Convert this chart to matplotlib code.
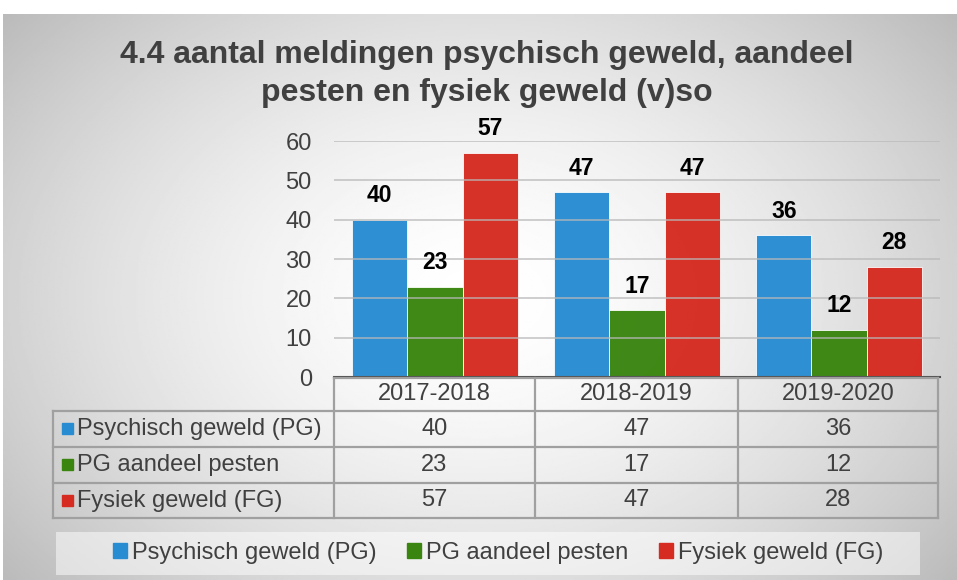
import matplotlib.pyplot as plt
import numpy as np
from matplotlib.patches import Rectangle
from matplotlib.lines import Line2D

plt.rcParams['font.family'] = ['Liberation Sans', 'DejaVu Sans']

title = "4.4 aantal meldingen psychisch geweld, aandeel\npesten en fysiek geweld (v)so"
years = ["2017-2018", "2018-2019", "2019-2020"]
series = ["Psychisch geweld (PG)", "PG aandeel pesten", "Fysiek geweld (FG)"]
pg = [40, 47, 36]
pesten = [23, 17, 12]
fg = [57, 47, 28]
colors = ["#288CD2", "#3A850F", "#D62B20"]
values = [pg, pesten, fg]

W, H = 957, 580
txt = "#404040"
fig = plt.figure(figsize=(W / 100, H / 100), dpi=100)

def fx(px):
    return px / W

def fy(py):
    return 1 - py / H

# background panel with radial gradient
bg = fig.add_axes([fx(3), 0, 1 - fx(3), fy(14)])
bg.set_axis_off()
yy, xx = np.mgrid[0:1:300j, 0:1:500j]
r = np.sqrt(((xx - 0.5) / 0.62) ** 2 + ((yy - 0.5) / 0.75) ** 2)
shade = 1 - 0.25 * np.clip(r, 0, 1.4) ** 1.6
bg.imshow(shade, cmap="gray", vmin=0, vmax=1, aspect="auto", extent=[0, 1, 0, 1])
bg.set_xlim(0, 1)
bg.set_ylim(0, 1)

fig.text(fx(487), fy(74), title, ha="center", va="center", fontsize=23,
         fontweight="bold", color=txt, linespacing=1.38)

# bar chart
ax = fig.add_axes([fx(334), fy(377), fx(940 - 334), (377 - 141) / H])
ax.set_facecolor("none")
x = np.arange(len(years))
w = 0.273
for i, (name, vals, c) in enumerate(zip(series, values, colors)):
    bars = ax.bar(x + (i - 1) * w, vals, width=w, color=c, edgecolor="white",
                  linewidth=0.6, label=name, zorder=2, alpha=0.97)
    for b, v in zip(bars, vals):
        ax.annotate(str(v), (b.get_x() + b.get_width() / 2, v), xytext=(0, 9),
                    textcoords="offset points", ha="center", va="bottom",
                    fontsize=16.5, fontweight="bold", color="black")
ax.set_xlim(-0.5, 2.5)
ax.set_ylim(0, 60)
ax.set_yticks(range(0, 61, 10))
ax.yaxis.grid(True, color="#b8b8b8", linewidth=1.2, zorder=3, alpha=0.8)
ax.set_axisbelow(False)
ax.tick_params(axis="y", length=0, labelsize=17, labelcolor=txt, pad=16)
ax.set_xticks([])
for s in ["top", "right", "left"]:
    ax.spines[s].set_visible(False)
ax.spines["bottom"].set_color("#505050")
ax.spines["bottom"].set_linewidth(1.5)
ax.spines["bottom"].set_zorder(4)

# data table
col_edges = [334, 535, 738, 938]
row_edges = [378, 411, 447, 483, 518]
label_left = 53
lc = "#a0a0a0"
lw = 1.6

def hline(y, x0, x1):
    fig.add_artist(Line2D([fx(x0), fx(x1)], [fy(y), fy(y)], color=lc, lw=lw))

def vline(x0, y0, y1):
    fig.add_artist(Line2D([fx(x0), fx(x0)], [fy(y0), fy(y1)], color=lc, lw=lw))

hline(row_edges[0], col_edges[0], col_edges[-1])
for y in row_edges[1:]:
    hline(y, label_left, col_edges[-1])
vline(label_left, row_edges[1], row_edges[-1])
for xe in col_edges:
    vline(xe, row_edges[0], row_edges[-1])

for j, yr in enumerate(years):
    cx = (col_edges[j] + col_edges[j + 1]) / 2
    cy = (row_edges[0] + row_edges[1]) / 2
    fig.text(fx(cx), fy(cy), yr, ha="center", va="center", fontsize=17, color=txt)

for i, (name, vals, c) in enumerate(zip(series, values, colors)):
    cy = (row_edges[i + 1] + row_edges[i + 2]) / 2
    fig.add_artist(Rectangle((fx(62), fy(cy + 5)), fx(11), 11 / H, color=c,
                             transform=fig.transFigure))
    fig.text(fx(77), fy(cy), name, ha="left", va="center", fontsize=17, color=txt)
    for j, v in enumerate(vals):
        cx = (col_edges[j] + col_edges[j + 1]) / 2
        fig.text(fx(cx), fy(cy), str(v), ha="center", va="center", fontsize=17, color=txt)

# legend
fig.add_artist(Rectangle((fx(56), fy(575)), fx(920 - 56), 43 / H, color="white",
                         alpha=0.5, transform=fig.transFigure, lw=0))
handles = [Rectangle((0, 0), 1, 1, color=c) for c in colors]
fig.legend(handles, series, loc="center", bbox_to_anchor=(fx(498), fy(553)),
           ncol=3, frameon=False, fontsize=17, labelcolor=txt, handlelength=0.6,
           handleheight=0.6, handletextpad=0.2, columnspacing=1.3)

fig.savefig("out.png", dpi=100)
